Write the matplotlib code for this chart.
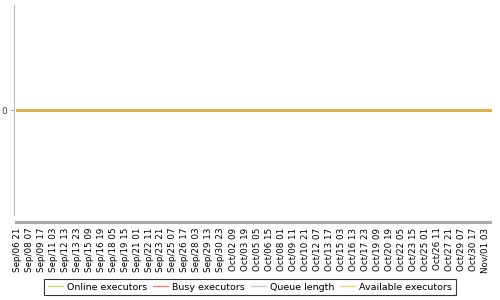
import matplotlib
matplotlib.use("Agg")
import matplotlib.pyplot as plt
from matplotlib.lines import Line2D
from datetime import datetime

tick_labels = ["Sep/06 21", "Sep/08 07", "Sep/09 17", "Sep/11 03", "Sep/12 13", "Sep/13 23",
               "Sep/15 09", "Sep/16 19", "Sep/18 05", "Sep/19 15", "Sep/21 01", "Sep/22 11",
               "Sep/23 21", "Sep/25 07", "Sep/26 17", "Sep/28 03", "Sep/29 13", "Sep/30 23",
               "Oct/02 09", "Oct/03 19", "Oct/05 05", "Oct/06 15", "Oct/08 01", "Oct/09 11",
               "Oct/10 21", "Oct/12 07", "Oct/13 17", "Oct/15 03", "Oct/16 13", "Oct/17 23",
               "Oct/19 09", "Oct/20 19", "Oct/22 05", "Oct/23 15", "Oct/25 01", "Oct/26 11",
               "Oct/27 21", "Oct/29 07", "Oct/30 17", "Nov/01 03"]
sample_times = tick_labels + ["Nov/01 17"]

online_executors = [0] * 41
busy_executors = [0] * 41
queue_length = [0] * 41
available_executors = [0] * 41

series_names = ["Online executors", "Busy executors", "Queue length", "Available executors"]
series_colors = ["#c3dc6f", "#f08080", "#cccccc", "#f2d37a"]

def to_hours(label):
    t = datetime.strptime("2021 " + label, "%Y %b/%d %H")
    t0 = datetime.strptime("2021 " + tick_labels[0], "%Y %b/%d %H")
    return (t - t0).total_seconds() / 3600

tick_x = [to_hours(s) for s in tick_labels]
x = [to_hours(s) for s in sample_times]

fig = plt.figure(figsize=(5, 3), dpi=100)
ax = fig.add_axes([0.028, 0.283, 0.956, 0.700])

for s in ["top", "right"]:
    ax.spines[s].set_visible(False)
ax.spines["left"].set_color("#bbbbbb")
ax.spines["bottom"].set_position(("outward", 5))
ax.spines["bottom"].set_color("#a8a8a8")
ax.spines["bottom"].set_linewidth(2.2)

for vals, name, col in zip([online_executors, busy_executors, queue_length, available_executors],
                           series_names, series_colors):
    ax.plot(x, vals, color=col, lw=2)
# overlapping lines show as a darker gold
ax.plot(x, available_executors, color="#dcb04a", lw=2)

ax.set_xlim(-9, 1347)
ax.set_ylim(-1, 1)
ax.spines["bottom"].set_bounds(-2, 1341)
ax.set_yticks([0])
ax.set_yticklabels(["0"], fontsize=6.5, color="#444444")
ax.set_xticks(tick_x)
ax.set_xticklabels(tick_labels, rotation=90, fontsize=6.3)
ax.tick_params(axis="y", length=2, color="#999999", pad=3)
ax.tick_params(axis="x", length=0, pad=4)

handles = [Line2D([], [], color=c, lw=1) for c in series_colors]
leg = fig.legend(handles, series_names, loc="lower center", bbox_to_anchor=(0.5, 0.0),
                 ncol=4, fontsize=6.8, frameon=True, fancybox=False, handlelength=1.6,
                 handletextpad=0.45, columnspacing=0.6, borderpad=0.4)
leg.get_frame().set_edgecolor("black")
leg.get_frame().set_linewidth(0.8)

fig.savefig("out.png", dpi=100)
